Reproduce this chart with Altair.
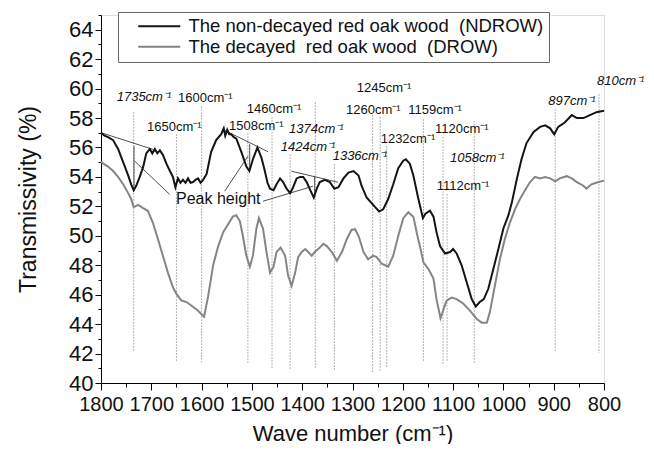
import altair as alt
import pandas as pd

FONT = "Liberation Sans"

# ---------------- data ----------------
ndrow_label = "The non-decayed red oak wood \u00a0(NDROW)\u00a0"
drow_label = "The decayed \u00a0red oak wood \u00a0(DROW)"

black_wave = [1800, 1793, 1786, 1776, 1766, 1756, 1746, 1740, 1735, 1730, 1723, 1716, 1710, 1703,
              1698, 1693, 1688, 1683, 1677, 1670, 1663, 1657, 1652, 1647, 1642, 1637, 1632, 1627,
              1622, 1617, 1612, 1607, 1602, 1597, 1590, 1581, 1571, 1561, 1556, 1553, 1549, 1545,
              1541, 1536, 1531, 1521, 1511, 1505, 1498, 1489, 1481, 1475, 1469, 1464, 1457, 1451,
              1444, 1438, 1431, 1424, 1418, 1411, 1404, 1398, 1391, 1384, 1377, 1371, 1365, 1355,
              1345, 1336, 1328, 1318, 1308, 1298, 1288, 1282, 1272, 1259, 1247, 1239, 1229, 1219,
              1209, 1199, 1194, 1186, 1179, 1169, 1160, 1155, 1146, 1139, 1133, 1126, 1116, 1106,
              1100, 1093, 1083, 1073, 1063, 1055, 1047, 1039, 1030, 1020, 1010, 1000, 990, 983,
              973, 964, 954, 940, 927, 917, 907, 899, 891, 878, 864, 854, 841, 828, 815, 800]
black_val = [57.0, 56.8, 56.7, 56.5, 55.9, 55.0, 54.1, 53.5, 53.1, 53.4, 54.0, 54.7, 55.6, 55.9,
             55.6, 55.9, 55.6, 55.8, 55.5, 54.9, 54.4, 54.0, 53.3, 53.9, 53.6, 53.8, 53.6, 53.9,
             53.6, 53.65, 53.8, 53.9, 53.6, 53.8, 54.2, 55.7, 56.5, 56.9, 57.3, 56.8, 57.2, 56.9,
             56.9, 56.7, 56.6, 55.7, 54.7, 54.4, 55.2, 56.0, 55.3, 54.5, 53.6, 53.2, 53.1, 53.5,
             53.9, 53.65, 53.2, 52.9, 53.3, 53.9, 54.0, 54.0, 53.65, 53.1, 52.6, 53.2, 53.65, 53.8,
             53.65, 53.2, 53.3, 53.9, 54.3, 54.4, 54.1, 53.4, 52.6, 52.1, 51.65, 51.8, 52.5, 53.5,
             54.6, 55.1, 55.2, 54.9, 54.1, 52.5, 51.2, 51.5, 51.7, 51.3, 50.25, 49.3, 48.8, 48.9,
             49.1, 48.8, 48.0, 46.85, 45.7, 45.2, 45.5, 45.7, 46.4, 47.75, 49.1, 50.5, 51.4, 52.3,
             53.9, 55.2, 56.3, 57.05, 57.4, 57.5, 57.3, 56.9, 57.4, 57.7, 58.2, 58.0, 58.0, 58.2,
             58.4, 58.5]

gray_wave = [1800, 1786, 1776, 1766, 1756, 1746, 1740, 1735, 1726, 1717, 1707, 1697, 1687, 1677,
             1667, 1657, 1650, 1640, 1630, 1620, 1610, 1601, 1595, 1587, 1577, 1567, 1557, 1547,
             1538, 1531, 1524, 1518, 1511, 1504, 1498, 1491, 1486, 1478, 1471, 1464, 1457, 1451,
             1443, 1434, 1428, 1421, 1414, 1408, 1401, 1394, 1388, 1381, 1375, 1365, 1358, 1351,
             1341, 1331, 1321, 1311, 1302, 1295, 1288, 1278, 1269, 1259, 1252, 1242, 1229, 1219,
             1209, 1199, 1189, 1179, 1171, 1164, 1159, 1149, 1139, 1133, 1125, 1119, 1113, 1103,
             1093, 1080, 1066, 1053, 1043, 1033, 1027, 1017, 1007, 997, 987, 977, 967, 957, 947,
             937, 927, 917, 907, 897, 888, 874, 864, 854, 841, 835, 825, 811, 800]
gray_val = [55.0, 54.7, 54.4, 54.0, 53.5, 52.9, 52.5, 51.95, 52.1, 51.9, 51.7, 50.9, 49.8, 48.65,
            47.5, 46.5, 46.05, 45.6, 45.5, 45.25, 45.0, 44.7, 44.5, 45.9, 48.0, 49.3, 50.25, 50.8,
            51.3, 51.4, 51.0, 50.0, 48.65, 47.9, 48.65, 50.5, 51.2, 50.5, 48.9, 47.5, 47.9, 48.9,
            49.2, 48.65, 47.3, 46.6, 47.5, 48.55, 48.9, 49.1, 48.9, 48.65, 48.9, 49.2, 49.45, 49.3,
            48.9, 48.3, 48.9, 49.8, 50.4, 50.45, 50.0, 48.9, 48.4, 48.65, 48.55, 48.1, 47.9, 48.65,
            50.0, 51.2, 51.6, 51.3, 50.0, 49.0, 48.2, 47.75, 47.1, 45.7, 44.4, 45.0, 45.6, 45.8,
            45.7, 45.4, 44.9, 44.35, 44.1, 44.1, 44.8, 46.6, 48.4, 49.8, 50.9, 51.8, 52.5, 53.1,
            53.65, 54.0, 53.9, 54.0, 53.9, 53.7, 53.9, 54.05, 53.9, 53.65, 53.4, 53.2, 53.5, 53.65,
            53.75]

# dotted reference lines
ref_wave = [1735, 1650, 1600, 1508, 1460, 1424, 1374, 1336, 1260, 1245, 1232, 1159, 1120, 1112, 1058, 897, 810]
ref_top = [58.38, 56.88, 58.78, 56.95, 58.04, 55.52, 59.05, 54.84, 58.17, 58.04, 56.07, 57.90, 56.68, 52.81, 57.77, 58.58, 59.60]
ref_bottom = [42.07, 41.41, 41.41, 41.26, 40.96, 40.92, 41.03, 40.87, 40.73, 40.80, 41.05, 41.48, 41.26, 41.48, 41.30, 42.16, 42.05]

# band labels (left edge wave number, centre value)
lab_text = ["1600cm\u207b\u00b9", "1650cm\u207b\u00b9", "1460cm\u207b\u00b9", "1508cm\u207b\u00b9",
            "1245cm\u207b\u00b9", "1260cm\u207b\u00b9", "1159cm\u207b\u00b9", "1232cm\u207b\u00b9",
            "1120cm\u207b\u00b9", "1112cm\u207b\u00b9"]
lab_wave = [1646.9, 1708.5, 1510.3, 1545.5, 1291.6, 1312.9, 1189.1, 1244.0, 1136.0, 1132.6]
lab_val = [59.33, 57.38, 58.63, 57.48, 60.07, 58.55, 58.55, 56.58, 57.26, 53.40]

ital_text = ["1735cm\u207b\u00b9", "1374cm\u207b\u00b9", "1424cm\u207b\u00b9", "1336cm\u207b\u00b9",
             "1058cm\u207b\u00b9", "897cm\u207b\u00b9", "810cm\u207b\u00b9"]
ital_wave = [1768.8, 1426.2, 1442.7, 1339.4, 1106.2, 910.7, 813.9]
ital_val = [59.43, 57.26, 56.05, 55.44, 55.27, 59.14, 60.50]

# peak-height construction segments
seg_w1 = [1799.4, 1734.4, 1733.0, 1557.5, 1504.4, 1554.1, 1421.7, 1375.2, 1477.9]
seg_v1 = [57.00, 56.09, 55.07, 57.22, 56.23, 53.03, 54.39, 54.05, 52.35]
seg_w2 = [1696.6, 1734.4, 1663.4, 1468.0, 1504.4, 1507.8, 1328.8, 1375.2, 1378.5]
seg_v2 = [55.87, 53.03, 52.81, 55.71, 54.53, 55.41, 53.64, 52.58, 53.37]

peak_text = ["Peak height"]
peak_wave = [1650.9]
peak_val = [52.47]

x_major = [1800, 1700, 1600, 1500, 1400, 1300, 1200, 1100, 1000, 900, 800]
x_minor = [1750, 1650, 1550, 1450, 1350, 1250, 1150, 1050, 950, 850]
y_major = [40, 42, 44, 46, 48, 50, 52, 54, 56, 58, 60, 62, 64]
y_minor = [41, 43, 45, 47, 49, 51, 53, 55, 57, 59, 61, 63, 65]

# ---------------- tables ----------------
spec_df = pd.concat([
    pd.DataFrame({"wave": black_wave, "value": black_val, "series": ndrow_label, "k": 0}),
    pd.DataFrame({"wave": gray_wave, "value": gray_val, "series": drow_label, "k": 1}),
])
ref_df = pd.DataFrame({"wave": ref_wave, "top": ref_top, "bottom": ref_bottom})
lab_df = pd.DataFrame({"wave": lab_wave, "value": lab_val, "text": lab_text})
ital_df = pd.DataFrame({"wave": ital_wave, "value": ital_val, "text": ital_text})
seg_df = pd.DataFrame({"w1": seg_w1, "v1": seg_v1, "w2": seg_w2, "v2": seg_v2})
peak_df = pd.DataFrame({"wave": peak_wave, "value": peak_val, "text": peak_text})

xs = alt.Scale(domain=[1800, 800], nice=False, zero=False)
ys = alt.Scale(domain=[40, 65], nice=False, zero=False)

x_axis = alt.Axis(orient="bottom", values=x_major, format="d", tickSize=7, labelPadding=4,
                  labelFontSize=20, titleFontSize=22, titlePadding=9, grid=False,
                  labelFont=FONT, titleFont=FONT, titleFontWeight="normal",
                  domainColor="#000", tickColor="#000", labelColor="#111", titleColor="#111",
                  labelFlush=False, labelOverlap=False)
y_axis = alt.Axis(orient="left", values=y_major, format="d", tickSize=6, labelPadding=2,
                  labelFontSize=22, titleFontSize=23, titlePadding=28, grid=False,
                  labelFont=FONT, titleFont=FONT, titleFontWeight="normal",
                  domainColor="#000", tickColor="#000", labelColor="#111", titleColor="#111",
                  labelFlush=False, labelOverlap=False)

lines = alt.Chart(spec_df).mark_line(strokeWidth=2).encode(
    x=alt.X("wave:Q", scale=xs, axis=x_axis, title="Wave number (cm\u207b\u00b9)"),
    y=alt.Y("value:Q", scale=ys, axis=y_axis, title="Transmissivity (%)"),
    color=alt.Color("series:N",
                    scale=alt.Scale(domain=[ndrow_label, drow_label], range=["#141414", "#858585"]),
                    legend=alt.Legend(orient="none", legendX=17, legendY=-3, title=None,
                                      strokeColor="#666", fillColor="#ffffff", padding=5,
                                      symbolType="M-3,0H3", symbolSize=196, symbolStrokeWidth=2,
                                      symbolOffset=27, labelOffset=20, labelFontSize=18.5,
                                      labelFont=FONT, labelColor="#111", rowPadding=1.5,
                                      labelLimit=500)),
    detail="k:N",
)

refs = alt.Chart(ref_df).mark_rule(strokeDash=[1, 2], strokeWidth=1, color="#6e6e6e").encode(
    x=alt.X("wave:Q", scale=xs,
            axis=alt.Axis(orient="bottom", values=x_minor, labels=False, tickSize=4, domain=False,
                          grid=False, tickColor="#000", title=None)),
    y=alt.Y("top:Q", scale=ys,
            axis=alt.Axis(orient="left", values=y_minor, labels=False, tickSize=3, domain=False,
                          grid=False, tickColor="#000", title=None)),
    y2="bottom:Q",
)

segs = alt.Chart(seg_df).mark_rule(strokeWidth=0.8, color="#222").encode(
    x=alt.X("w1:Q", scale=xs, axis=None),
    y=alt.Y("v1:Q", scale=ys, axis=None),
    x2="w2:Q",
    y2="v2:Q",
)

labs = alt.Chart(lab_df).mark_text(align="left", baseline="middle", fontSize=13, font=FONT,
                                   color="#111", clip=False).encode(
    x=alt.X("wave:Q", scale=xs, axis=None),
    y=alt.Y("value:Q", scale=ys, axis=None),
    text="text:N",
)
itals = alt.Chart(ital_df).mark_text(align="left", baseline="middle", fontSize=13, font=FONT,
                                     fontStyle="italic", color="#111", clip=False).encode(
    x=alt.X("wave:Q", scale=xs, axis=None),
    y=alt.Y("value:Q", scale=ys, axis=None),
    text="text:N",
)
peak = alt.Chart(peak_df).mark_text(align="left", baseline="middle", fontSize=16, font=FONT,
                                    color="#111").encode(
    x=alt.X("wave:Q", scale=xs, axis=None),
    y=alt.Y("value:Q", scale=ys, axis=None),
    text="text:N",
)

chart = alt.layer(refs, lines, segs, labs, itals, peak).resolve_axis(
    x="independent", y="independent"
).properties(
    width=503, height=368,
    autosize=alt.AutoSizeParams(type="none"),
    padding={"left": 93, "top": 7, "right": 42, "bottom": 61},
).configure_view(stroke=None).configure(background="white")

chart.save("out.html", embed_options={"renderer": "svg", "actions": False})
